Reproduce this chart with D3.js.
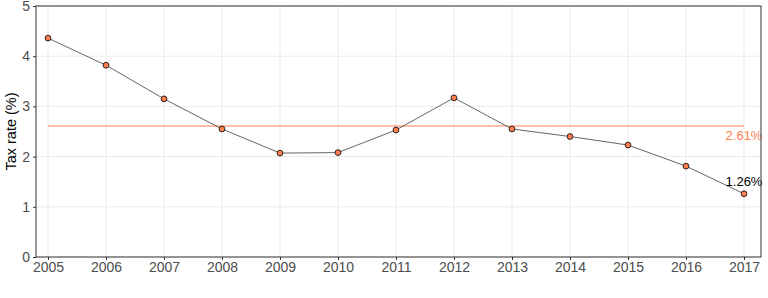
<!DOCTYPE html>
<html>
<head>
<meta charset="utf-8">
<script src="https://cdn.jsdelivr.net/npm/d3@7"></script>
<style>
  body { margin: 0; background: #fff; }
  svg { display: block; font-family: "Liberation Sans", Arial, sans-serif; }
</style>
</head>
<body>
<div id="chart"></div>
<script>
// Data
const years = [2005, 2006, 2007, 2008, 2009, 2010, 2011, 2012, 2013, 2014, 2015, 2016, 2017];
const taxRate = [4.36, 3.82, 3.15, 2.55, 2.07, 2.08, 2.53, 3.17, 2.55, 2.40, 2.23, 1.81, 1.26];
const meanRate = 2.61;
const yTicks = [0, 1, 2, 3, 4, 5];

const W = 768, H = 298;
const panel = { left: 36, right: 761, top: 6, bottom: 257 };

const svg = d3.select("#chart").append("svg")
    .attr("width", W)
    .attr("height", H);

const x = d3.scaleLinear()
    .domain([2005, 2017])
    .range([48, 744]);

const y = d3.scaleLinear()
    .domain([0, 5])
    .range([panel.bottom, panel.top]);

// grid lines
svg.selectAll(".ygrid")
    .data(yTicks)
    .enter()
    .append("line")
    .attr("x1", panel.left)
    .attr("x2", panel.right)
    .attr("y1", d => y(d))
    .attr("y2", d => y(d))
    .attr("stroke", "#ebebeb")
    .attr("stroke-width", 1);

svg.selectAll(".xgrid")
    .data(years)
    .enter()
    .append("line")
    .attr("x1", d => x(d))
    .attr("x2", d => x(d))
    .attr("y1", panel.top)
    .attr("y2", panel.bottom)
    .attr("stroke", "#ebebeb")
    .attr("stroke-width", 1);

// mean line
svg.append("line")
    .attr("x1", x(years[0]))
    .attr("x2", x(years[years.length - 1]))
    .attr("y1", y(meanRate))
    .attr("y2", y(meanRate))
    .attr("stroke", "#ff7f50")
    .attr("stroke-width", 1.1);

// data line
const pts = years.map((yr, i) => ({ year: yr, value: taxRate[i] }));
svg.append("path")
    .datum(pts)
    .attr("fill", "none")
    .attr("stroke", "#555")
    .attr("stroke-width", 0.9)
    .attr("d", d3.line().x(d => x(d.year)).y(d => y(d.value)));

svg.selectAll(".pt")
    .data(pts)
    .enter()
    .append("circle")
    .attr("cx", d => x(d.year))
    .attr("cy", d => y(d.value))
    .attr("r", 2.9)
    .attr("fill", "#ff7f50")
    .attr("stroke", "#000")
    .attr("stroke-width", 0.8);

// labels
svg.append("text")
    .attr("x", x(2017))
    .attr("y", y(meanRate) + 11)
    .attr("text-anchor", "middle")
    .attr("dominant-baseline", "middle")
    .attr("font-size", "13px")
    .attr("fill", "#ff7f50")
    .text(meanRate.toFixed(2) + "%");

svg.append("text")
    .attr("x", x(2017))
    .attr("y", y(taxRate[taxRate.length - 1]) - 11)
    .attr("text-anchor", "middle")
    .attr("dominant-baseline", "middle")
    .attr("font-size", "13px")
    .attr("fill", "#000")
    .text(taxRate[taxRate.length - 1].toFixed(2) + "%");

// panel border
svg.append("rect")
    .attr("x", panel.left)
    .attr("y", panel.top)
    .attr("width", panel.right - panel.left)
    .attr("height", panel.bottom - panel.top)
    .attr("fill", "none")
    .attr("stroke", "#333")
    .attr("stroke-width", 1);

// axes
const xAxis = svg.append("g")
    .attr("transform", `translate(0,${panel.bottom})`)
    .call(d3.axisBottom(x).tickValues(years).tickFormat(d3.format("d")).tickSize(3).tickPadding(2));
const yAxis = svg.append("g")
    .attr("transform", `translate(${panel.left},0)`)
    .call(d3.axisLeft(y).tickValues(yTicks).tickFormat(d3.format("d")).tickSize(3).tickPadding(3));

[xAxis, yAxis].forEach(g => {
    g.select(".domain").remove();
    g.selectAll(".tick line").attr("stroke", "#333");
    g.selectAll(".tick text")
        .attr("fill", "#4d4d4d")
        .attr("font-size", "14px")
        .attr("font-family", "Liberation Sans, Arial, sans-serif");
});

svg.append("text")
    .attr("transform", `translate(12,${(panel.top + panel.bottom) / 2}) rotate(-90)`)
    .attr("text-anchor", "middle")
    .attr("dominant-baseline", "middle")
    .attr("font-size", "14.5px")
    .attr("fill", "#000")
    .text("Tax rate (%)");
</script>
</body>
</html>
